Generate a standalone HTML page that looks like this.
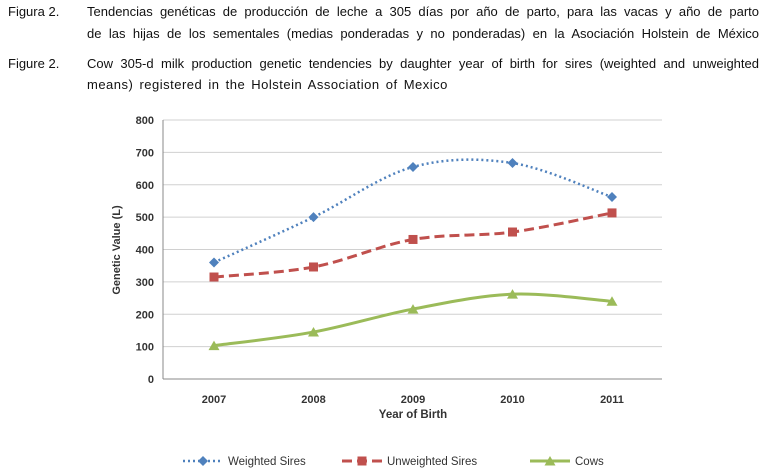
<!DOCTYPE html>
<html><head><meta charset="utf-8"><style>
body{margin:0;background:#fff;width:766px;height:476px;overflow:hidden;font-family:"Liberation Sans",sans-serif;}
.cap{position:absolute;font-size:13px;color:#111;line-height:18px;}
.j{text-align:justify;text-align-last:justify;}
</style></head><body>
<div class="cap" style="left:8px;top:3px;width:750px;">
<div style="position:absolute;left:0;top:0">Figura 2.</div>
<div class="j" style="position:absolute;left:79px;top:0;width:672px;">Tendencias genéticas de producción de leche a 305 días por año de parto, para las vacas y año de parto</div>
<div class="j" style="position:absolute;left:79px;top:22px;width:672px;">de las hijas de los sementales (medias ponderadas y no ponderadas) en la Asociación Holstein de México</div>
</div>
<div class="cap" style="left:8px;top:55px;width:750px;">
<div style="position:absolute;left:0;top:0">Figure 2.</div>
<div class="j" style="position:absolute;left:79px;top:0;width:672px;">Cow 305-d milk production genetic tendencies by daughter year of birth for sires (weighted and unweighted</div>
<div style="position:absolute;left:79px;top:21px;white-space:nowrap;letter-spacing:0.5px;word-spacing:2px">means) registered in the Holstein Association of Mexico</div>
</div>
<svg id="chart" width="766" height="476" style="position:absolute;left:0;top:0" font-family="Liberation Sans, sans-serif"></svg>
<script>
const years=["2007","2008","2009","2010","2011"];
const yTicks=[0,100,200,300,400,500,600,700,800];
const weighted=[360,500,655,667,562];
const unweighted=[315,346,431,454,513];
const cows=[103,145,216,262,240];
const NS="http://www.w3.org/2000/svg";
const svg=document.getElementById('chart');
const L=163,R=662,T=120,B=379;
const x=i=>214+i*99.5;
const y=v=>B-(v/800)*(B-T);
function mk(tag,at,parent){const e=document.createElementNS(NS,tag);for(const k in at)e.setAttribute(k,at[k]);(parent||svg).appendChild(e);return e;}
yTicks.forEach(t=>{
 const g=mk('line',{x1:L,x2:R,y1:y(t),y2:y(t),stroke:t===0?'#888':'#d0d0d0','stroke-width':1});
 
 
 const tx=mk('text',{x:L-9,y:y(t)+4,'text-anchor':'end','font-size':11,'font-weight':'bold',fill:'#333'});tx.textContent=t;
 
 
});
const ax=mk('line',{x1:L,x2:L,y1:T,y2:B,stroke:'#888'});


years.forEach((yr,i)=>{
 const tx=mk('text',{x:x(i),y:B+24,'text-anchor':'middle','font-size':11,'font-weight':'bold',fill:'#333'});tx.textContent=yr;
 
 
});
let t1=mk('text',{x:413,y:418,'text-anchor':'middle','font-size':11.5,'font-weight':'bold',fill:'#333'});t1.textContent='Year of Birth';


let t2=mk('text',{x:0,y:0,'text-anchor':'middle','font-size':11,'font-weight':'bold',fill:'#333',transform:'translate(120,250) rotate(-90)'});t2.textContent='Genetic Value (L)';


function smooth(vals){
 const p=vals.map((v,i)=>[x(i),y(v)]);let d='M'+p[0][0]+','+p[0][1];
 for(let i=0;i<p.length-1;i++){const p0=p[i-1]||p[i],p1=p[i],p2=p[i+1],p3=p[i+2]||p2;const k=6;
  d+=` C${p1[0]+(p2[0]-p0[0])/k},${p1[1]+(p2[1]-p0[1])/k} ${p2[0]-(p3[0]-p1[0])/k},${p2[1]-(p3[1]-p1[1])/k} ${p2[0]},${p2[1]}`;}
 return d;}
function marker(type,cx,cy,color,parent){
 if(type==='diamond')return mk('path',{d:`M${cx},${cy-5}L${cx+5},${cy}L${cx},${cy+5}L${cx-5},${cy}Z`,fill:color},parent);
 if(type==='square')return mk('rect',{x:cx-4.5,y:cy-4.5,width:9,height:9,fill:color},parent);
 return mk('path',{d:`M${cx},${cy-5}L${cx+5.5},${cy+4.5}L${cx-5.5},${cy+4.5}Z`,fill:color},parent);}
const series=[
 {name:'weighted-sires',vals:weighted,color:'#4f81bd',dash:'2,3',w:2.5,m:'diamond',label:'Weighted Sires'},
 {name:'unweighted-sires',vals:unweighted,color:'#c0504d',dash:'10,5',w:3,m:'square',label:'Unweighted Sires'},
 {name:'cows',vals:cows,color:'#9bbb59',dash:'',w:3,m:'triangle',label:'Cows'}];
const lx=[183,342,530];
series.forEach((s,si)=>{
 const g=mk('g',{});
 
 
 mk('path',{d:smooth(s.vals),fill:'none',stroke:s.color,'stroke-width':s.w,'stroke-dasharray':s.dash},g);
 s.vals.forEach((v,i)=>{const m=marker(s.m,x(i),y(v),s.color,g);
  
  });
 const lg=mk('g',{});
 
 
 const ly=461;
 mk('line',{x1:lx[si],x2:lx[si]+40,y1:ly,y2:ly,stroke:s.color,'stroke-width':s.w,'stroke-dasharray':s.dash},lg);
 marker(s.m,lx[si]+20,ly,s.color,lg);
 const tx=mk('text',{x:lx[si]+45,y:ly+4,'font-size':11.5,fill:'#333'},lg);tx.textContent=s.label;
});
</script>
</body></html>
